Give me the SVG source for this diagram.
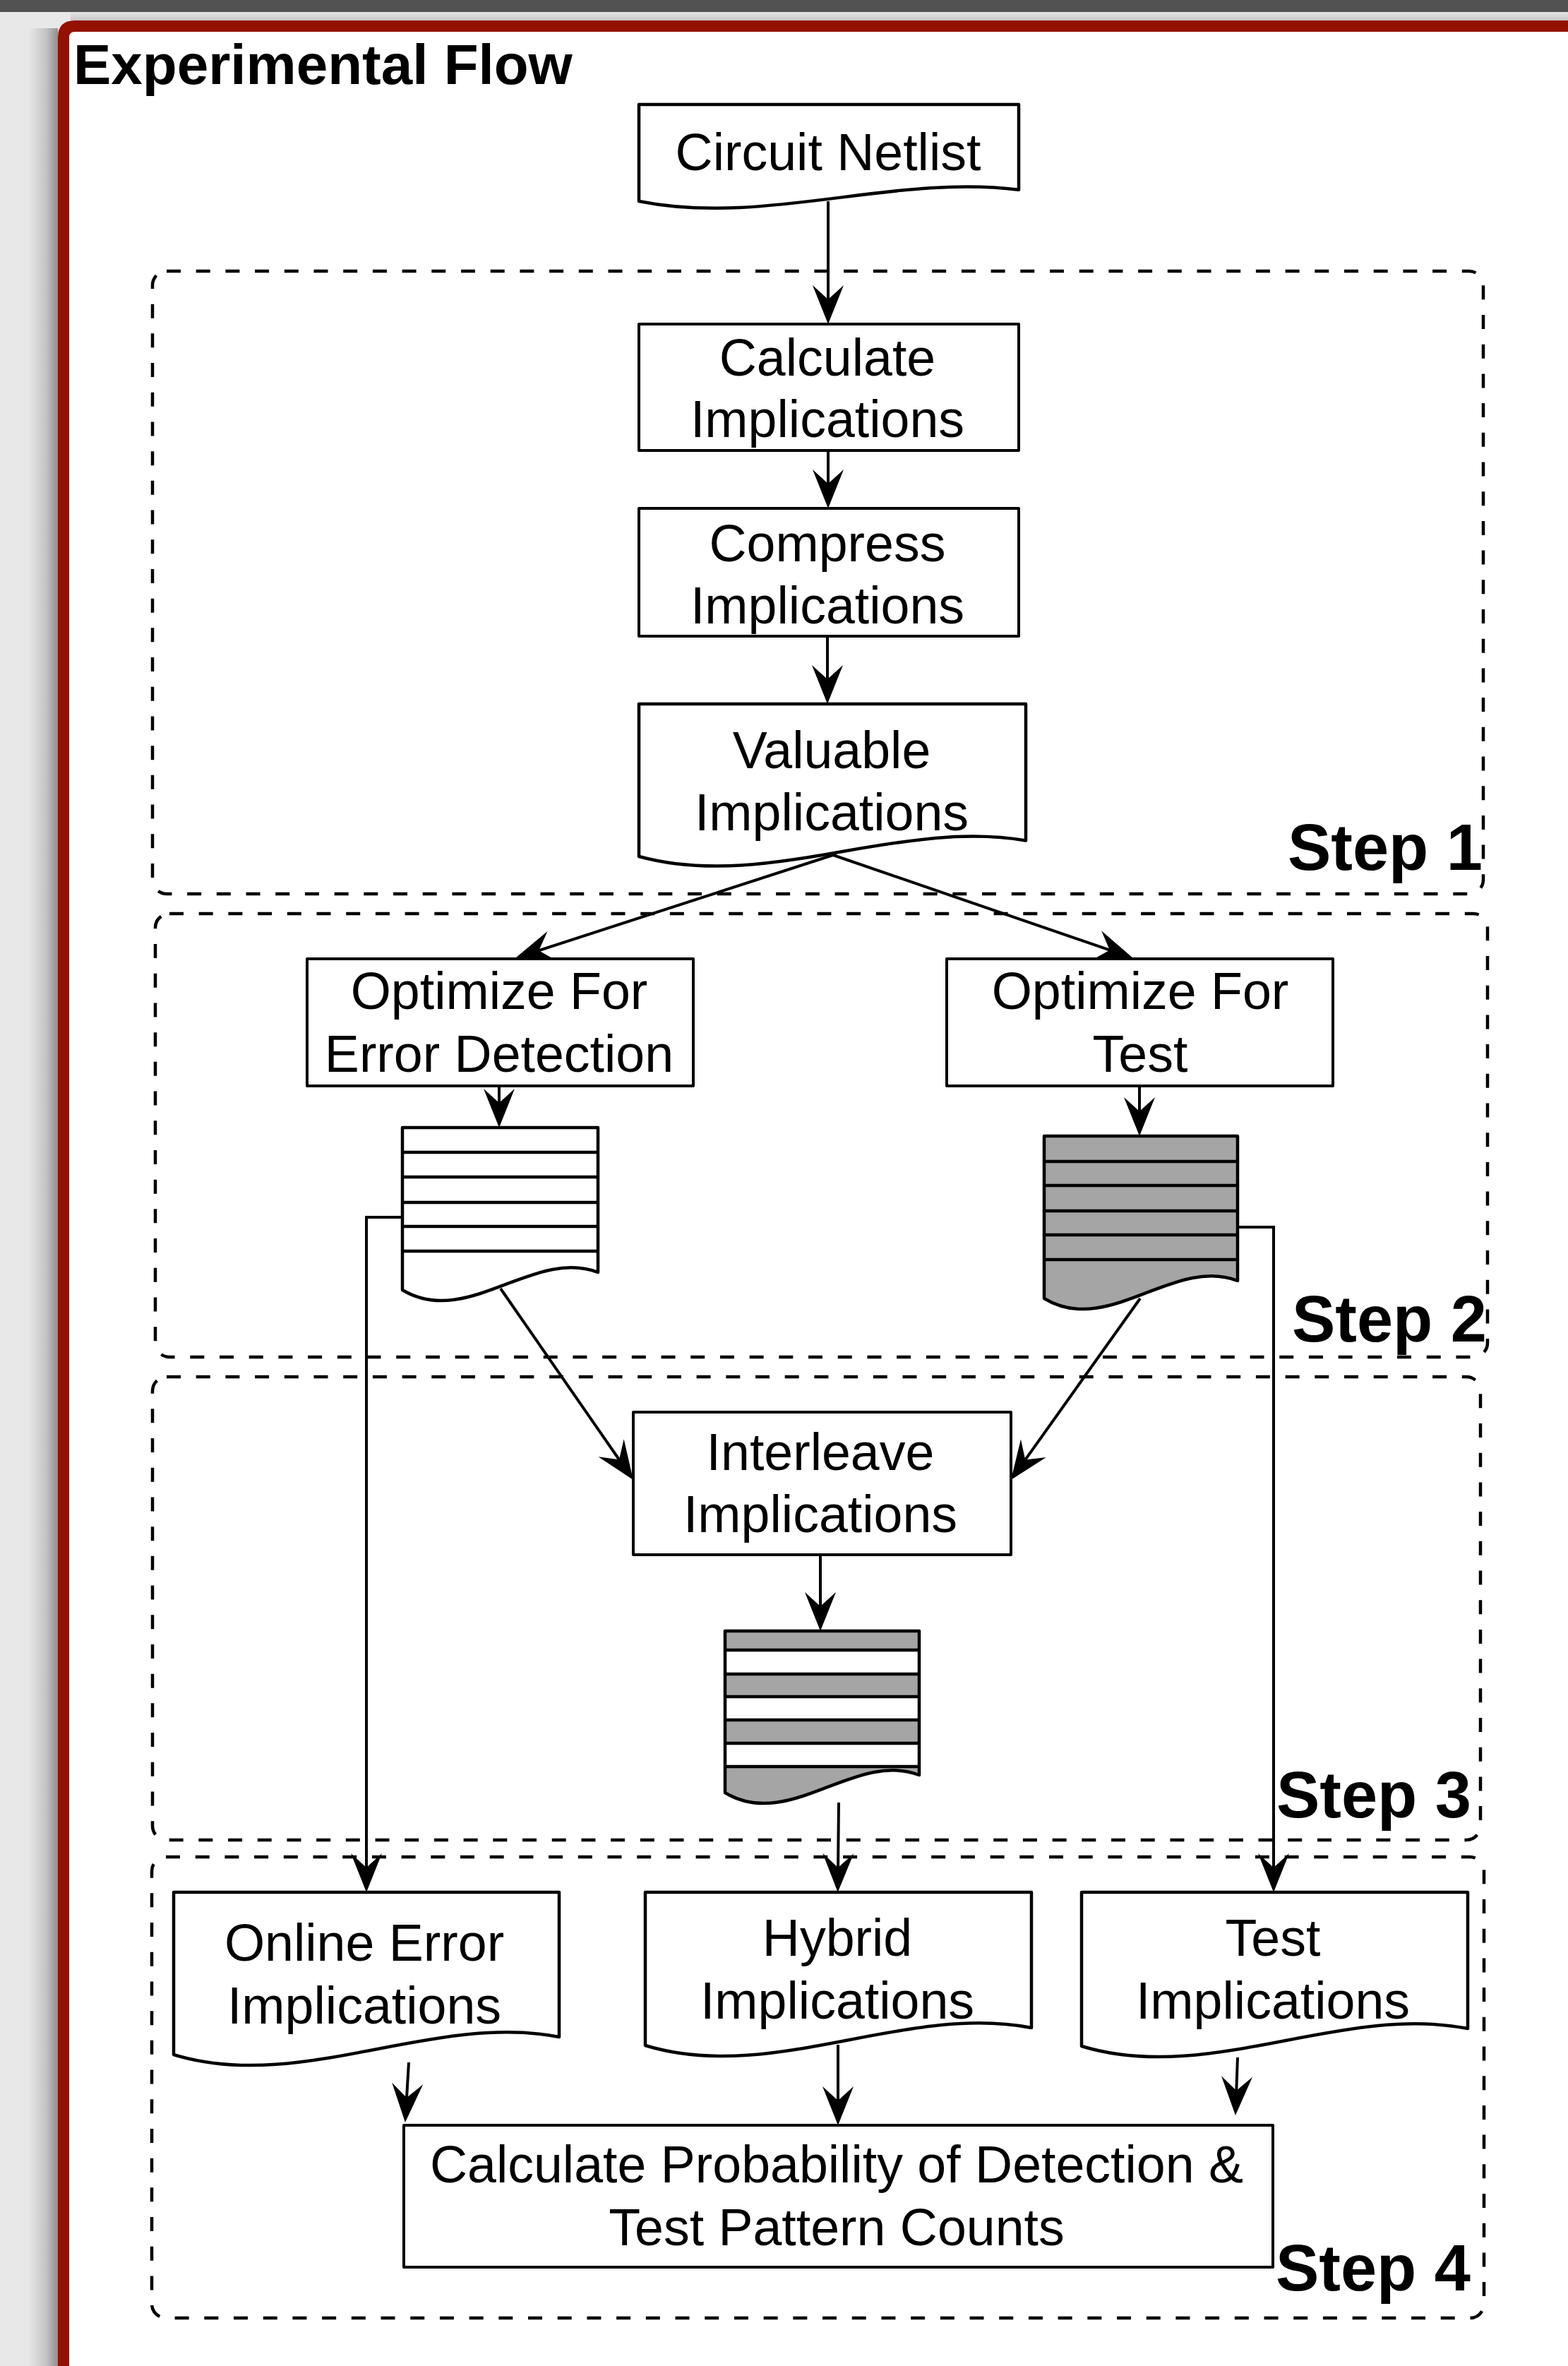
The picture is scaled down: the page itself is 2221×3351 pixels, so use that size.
<svg xmlns="http://www.w3.org/2000/svg" width="2221" height="3351" viewBox="0 0 2221 3351">
<defs>
<style>
.box{fill:#fff;stroke:#000;stroke-width:4;stroke-linejoin:round}
.doc{fill:#fff;stroke:#000;stroke-width:4.5;stroke-linejoin:round}
.docline{fill:none;stroke:#000;stroke-width:4.5;stroke-linejoin:round}
.gfill{fill:#a5a5a5;stroke:none}
.wband{fill:#fff;stroke:none}
.stripe{stroke:#000;stroke-width:4.5}
.step{fill:none;stroke:#000;stroke-width:4.5;stroke-dasharray:20 21.7}
.lbl{font-family:"Liberation Sans",Arial,Helvetica,sans-serif;font-size:73.5px;fill:#000;text-anchor:middle}
.steplbl{font-family:"Liberation Sans",Arial,Helvetica,sans-serif;font-size:92px;font-weight:bold;fill:#000;text-anchor:end}
.title{font-family:"Liberation Sans",Arial,Helvetica,sans-serif;font-size:80px;font-weight:bold;fill:#000}
.edge{fill:none;stroke:#000;stroke-width:4;marker-end:url(#arr)}
</style>
<marker id="arr" viewBox="-30 -25 62 50" markerWidth="62" markerHeight="50" refX="0" refY="0" orient="auto" markerUnits="userSpaceOnUse">
<path d="M28,0 L-27,-22 L-7,0 L-27,22 Z" fill="#000"/>
</marker>
<linearGradient id="shL" x1="0" x2="1" y1="0" y2="0">
<stop offset="0" stop-color="#e8e8e8"/><stop offset="0.6" stop-color="#c4c4c4"/><stop offset="1" stop-color="#8f8f8f"/>
</linearGradient>
<linearGradient id="shT" x1="0" x2="0" y1="0" y2="1">
<stop offset="0" stop-color="#e4e4e4"/><stop offset="1" stop-color="#c8c8c8"/>
</linearGradient>
</defs>

<g id="background">
<rect x="0" y="0" width="2221" height="3351" fill="#e8e8e8"/>
<rect x="0" y="0" width="2221" height="17" fill="#525252"/>
<rect x="40" y="40" width="42" height="3311" fill="url(#shL)"/>
<rect x="100" y="17" width="2121" height="12" fill="url(#shT)"/>
<path d="M82,3351 V53 Q82,29 106,29 H2221 V3351 Z" fill="#941100"/>
<path d="M98,3351 V53 Q98,45 106,45 H2221 V3351 Z" fill="#ffffff"/>
</g>

<g id="title">
<text class="title" x="104" y="119">Experimental Flow</text>
</g>

<g id="steps">
<rect id="step1-box" class="step" x="216" y="384" width="1885" height="882" rx="20"/>
<rect id="step2-box" class="step" x="220" y="1294" width="1887" height="628" rx="20"/>
<rect id="step3-box" class="step" x="216" y="1950" width="1881" height="656" rx="20"/>
<rect id="step4-box" class="step" x="215" y="2630" width="1887" height="653" rx="20"/>
</g>

<g id="connectors">
<path class="edge" d="M1173,285 V431"/>
<path class="edge" d="M1173,638 V692"/>
<path class="edge" d="M1172,901 V969"/>
<path class="edge" d="M1180,1211 L756.6,1348.3"/>
<path class="edge" d="M1180,1211 L1578.5,1347.9"/>
<path class="edge" d="M707,1538 V1569"/>
<path class="edge" d="M1614,1538 V1581"/>
<path class="edge" d="M570,1724 H519 V2652"/>
<path class="edge" d="M1753,1738 H1804 V2652"/>
<path class="edge" d="M709,1825 L881,2073"/>
<path class="edge" d="M1615,1839 L1448.2,2073.2"/>
<path class="edge" d="M1162,2202 V2282"/>
<path class="edge" d="M1188,2553 L1187,2652"/>
<path class="edge" d="M579,2921 L575.6,2978"/>
<path class="edge" d="M1187,2896 V2982"/>
<path class="edge" d="M1753,2914 L1751,2968"/>
</g>

<g id="circuit-netlist">
<path class="doc" d="M905,148 H1443 V268.8 C1265.5,246 1082.5,320.8 905,285 Z"/>
<text class="lbl" x="1173" y="241">Circuit Netlist</text>
</g>

<g id="calculate-implications">
<rect class="box" x="905" y="459" width="538" height="179"/>
<text class="lbl" x="1172" y="532">Calculate</text>
<text class="lbl" x="1172" y="619">Implications</text>
</g>

<g id="compress-implications">
<rect class="box" x="905" y="720" width="538" height="181"/>
<text class="lbl" x="1172" y="795">Compress</text>
<text class="lbl" x="1172" y="883">Implications</text>
</g>

<g id="valuable-implications">
<path class="doc" d="M905,997 H1453 V1190.5 C1272.2,1159 1085.8,1262.5 905,1213 Z"/>
<text class="lbl" x="1178" y="1088">Valuable</text>
<text class="lbl" x="1178" y="1176">Implications</text>
</g>

<g id="optimize-error">
<rect class="box" x="435" y="1358" width="547" height="180"/>
<text class="lbl" x="707" y="1429">Optimize For</text>
<text class="lbl" x="707" y="1518">Error Detection</text>
</g>

<g id="optimize-test">
<rect class="box" x="1341" y="1358" width="547" height="180"/>
<text class="lbl" x="1615" y="1429">Optimize For</text>
<text class="lbl" x="1615" y="1518">Test</text>
</g>

<g id="error-list">
<path class="doc" d="M570,1597 H847 V1802 C755.6,1767 661.4,1882 570,1827 Z"/>
<line class="stripe" x1="570" y1="1632" x2="847" y2="1632"/>
<line class="stripe" x1="570" y1="1667" x2="847" y2="1667"/>
<line class="stripe" x1="570" y1="1703" x2="847" y2="1703"/>
<line class="stripe" x1="570" y1="1737" x2="847" y2="1737"/>
<line class="stripe" x1="570" y1="1772" x2="847" y2="1772"/>
</g>

<g id="test-list">
<path class="doc" style="fill:#a5a5a5" d="M1479,1609 H1753 V1814 C1662.6,1779 1569.4,1894 1479,1839 Z"/>
<line class="stripe" x1="1479" y1="1645" x2="1753" y2="1645"/>
<line class="stripe" x1="1479" y1="1679" x2="1753" y2="1679"/>
<line class="stripe" x1="1479" y1="1715" x2="1753" y2="1715"/>
<line class="stripe" x1="1479" y1="1749" x2="1753" y2="1749"/>
<line class="stripe" x1="1479" y1="1784" x2="1753" y2="1784"/>
</g>

<g id="interleave-implications">
<rect class="box" x="897" y="2000" width="535" height="202"/>
<text class="lbl" x="1162" y="2082">Interleave</text>
<text class="lbl" x="1162" y="2170">Implications</text>
</g>

<g id="mixed-list">
<path class="gfill" d="M1027,2310 H1302 V2514 C1211.3,2479 1117.8,2594 1027,2539 Z"/>
<rect class="wband" x="1027" y="2337" width="275" height="34"/>
<rect class="wband" x="1027" y="2403" width="275" height="33"/>
<rect class="wband" x="1027" y="2469" width="275" height="33"/>
<line class="stripe" x1="1027" y1="2337" x2="1302" y2="2337"/>
<line class="stripe" x1="1027" y1="2371" x2="1302" y2="2371"/>
<line class="stripe" x1="1027" y1="2403" x2="1302" y2="2403"/>
<line class="stripe" x1="1027" y1="2436" x2="1302" y2="2436"/>
<line class="stripe" x1="1027" y1="2469" x2="1302" y2="2469"/>
<line class="stripe" x1="1027" y1="2502" x2="1302" y2="2502"/>
<path class="docline" d="M1027,2310 H1302 V2514 C1211.3,2479 1117.8,2594 1027,2539 Z"/>
</g>

<g id="online-error-implications">
<path class="doc" d="M246,2680 H792 V2885 C611.8,2850 426.2,2965 246,2910 Z"/>
<text class="lbl" x="516" y="2777">Online Error</text>
<text class="lbl" x="516" y="2866">Implications</text>
</g>

<g id="hybrid-implications">
<path class="doc" d="M914,2680 H1461 V2872 C1280.5,2837 1094.5,2952 914,2897 Z"/>
<text class="lbl" x="1186" y="2770">Hybrid</text>
<text class="lbl" x="1186" y="2859">Implications</text>
</g>

<g id="test-implications">
<path class="doc" d="M1532,2680 H2079 V2873 C1898.5,2838 1712.5,2953 1532,2898 Z"/>
<text class="lbl" x="1803" y="2770">Test</text>
<text class="lbl" x="1803" y="2859">Implications</text>
</g>

<g id="calculate-probability">
<rect class="box" x="572" y="3010" width="1231" height="201"/>
<text class="lbl" x="1185" y="3091">Calculate Probability of Detection &amp;</text>
<text class="lbl" x="1185" y="3180">Test Pattern Counts</text>
</g>

<g id="step-labels">
<text class="steplbl" x="2100" y="1232">Step 1</text>
<text class="steplbl" x="2106" y="1900">Step 2</text>
<text class="steplbl" x="2084" y="2574">Step 3</text>
<text class="steplbl" x="2083" y="3244">Step 4</text>
</g>
</svg>
